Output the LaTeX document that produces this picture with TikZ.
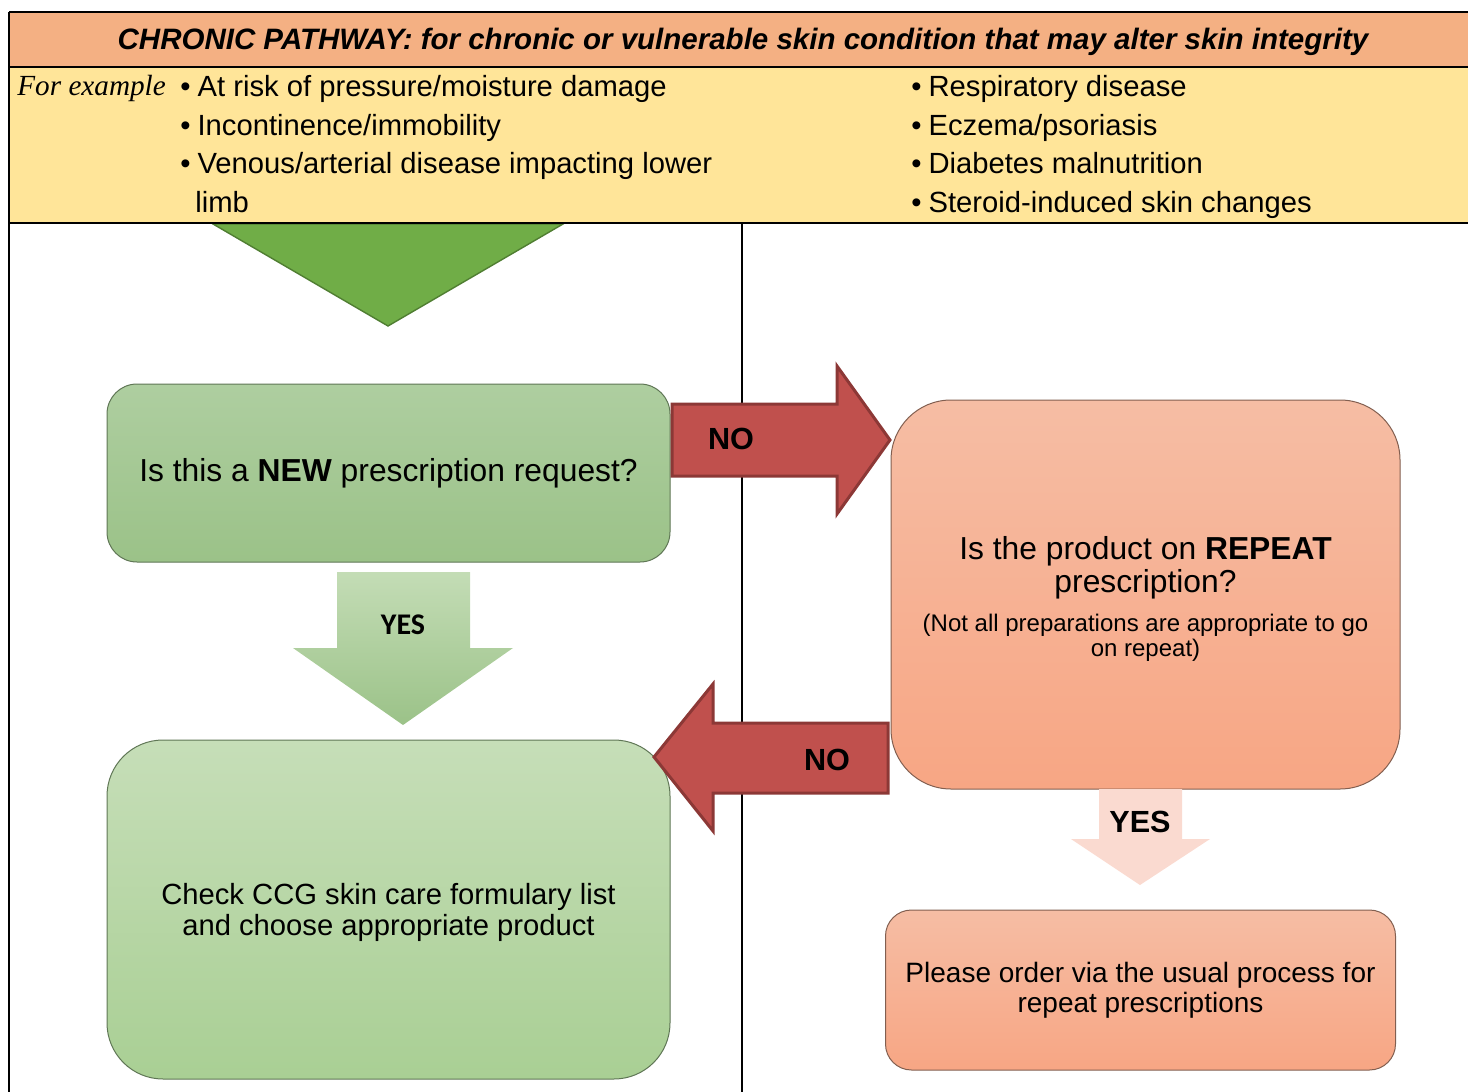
\documentclass[tikz,border=0pt]{standalone}
\usepackage{fontspec}
\setmainfont{Liberation Sans}
\newfontfamily\timesit{Liberation Serif}
\newfontfamily\calibri{Carlito}
\usetikzlibrary{positioning}

\definecolor{hdrorange}{RGB}{244,176,131}
\definecolor{hdryellow}{RGB}{255,229,153}
\definecolor{tripgreen}{RGB}{112,173,71}
\definecolor{tripline}{RGB}{80,126,50}
\definecolor{nored}{RGB}{192,80,77}
\definecolor{noredline}{RGB}{140,56,54}
\definecolor{greentop}{RGB}{174,206,160}
\definecolor{greenbot}{RGB}{155,194,136}
\definecolor{palegreentop}{RGB}{198,222,184}
\definecolor{palegreenbot}{RGB}{169,207,148}
\definecolor{salmontop}{RGB}{246,189,164}
\definecolor{salmonbot}{RGB}{247,166,132}
\definecolor{pinkarrow}{RGB}{250,218,208}
\definecolor{greenline}{RGB}{95,118,85}
\definecolor{salmonline}{RGB}{130,95,80}

\tikzset{
  listtxt/.style={anchor=base west,inner sep=0pt,font=\fontsize{14.6}{15}\selectfont},
  qbox/.style={draw,line width=0.5pt,inner sep=0pt,align=center},
  greenbox/.style={qbox,draw=greenline,top color=greentop,bottom color=greenbot},
  palebox/.style={qbox,draw=greenline,top color=palegreentop,bottom color=palegreenbot},
  salmonbox/.style={qbox,draw=salmonline,top color=salmontop,bottom color=salmonbot},
  redarrow/.style={fill=nored,draw=noredline,line width=1.5pt},
  answer/.style={font=\bfseries\fontsize{15.3}{16}\selectfont,inner sep=0pt},
}

\begin{document}
\begin{tikzpicture}[x=0.5pt,y=-0.5pt]
    \useasboundingbox (0,0) rectangle (1468,1092);

    % header bands
    \fill[hdrorange] (9,12) rectangle (1468,67);
    \fill[hdryellow] (9,67) rectangle (1468,223);
    \node (title) at (743,42) {\bfseries\itshape\fontsize{14.75}{15}\selectfont CHRONIC PATHWAY: for chronic or vulnerable skin condition that may alter skin integrity};

    \node[anchor=base west,inner sep=0pt] (forex) at (17,95) {\timesit\itshape\fontsize{14.6}{15}\selectfont For example};
    \node[listtxt] (l1) at (180,96) {\textbullet\hspace{3.5pt}At risk of pressure/moisture damage};
    \node[listtxt] (l2) at (180,135) {\textbullet\hspace{3.5pt}Incontinence/immobility};
    \node[listtxt] (l3) at (180,173) {\textbullet\hspace{3.5pt}Venous/arterial disease impacting lower};
    \node[listtxt] (l3b) at (195,212) {limb};
    \node[listtxt] (r1) at (911,96) {\textbullet\hspace{3.5pt}Respiratory disease};
    \node[listtxt] (r2) at (911,135) {\textbullet\hspace{3.5pt}Eczema/psoriasis};
    \node[listtxt] (r3) at (911,173) {\textbullet\hspace{3.5pt}Diabetes malnutrition};
    \node[listtxt] (r4) at (911,212) {\textbullet\hspace{3.5pt}Steroid-induced skin changes};

    % pointer into the pathway
    \draw[fill=tripgreen,draw=tripline,line width=0.7pt] (213,224) -- (563,224) -- (388,326) -- cycle;

    % frame
    \draw[line width=0.7pt] (9,12) -- (1468,12);
    \draw[line width=0.7pt] (9,67) -- (1468,67);
    \draw[line width=0.7pt] (9,223) -- (1468,223);
    \draw[line width=0.7pt] (9,12) -- (9,1092);
    \draw[line width=0.7pt] (742,223) -- (742,1092);

    % boxes
    \node[greenbox,rounded corners=15pt,minimum width=281.5pt,minimum height=89pt,font=\fontsize{15.9}{17}\selectfont] (newq) at (388.5,473)
        {Is this a \textbf{NEW} prescription request?};
    \node[salmonbox,rounded corners=30pt,minimum width=254.5pt,minimum height=194.5pt] (repq) at (1145.5,594.5)
        {\begin{minipage}{250pt}\centering\vspace*{4pt}
         \fontsize{15.9}{16.5}\selectfont Is the product on \textbf{REPEAT}\\ prescription?\par
         \vspace{7pt}\fontsize{12}{12.5}\selectfont (Not all preparations are appropriate to go\\ on repeat)\par
         \end{minipage}};
    \node[palebox,rounded corners=28pt,minimum width=281.5pt,minimum height=169.5pt,font=\fontsize{14.6}{15.5}\selectfont] (check) at (388.5,909.5)
        {\\[-2pt]Check CCG skin care formulary list\\ and choose appropriate product};
    \node[salmonbox,rounded corners=13pt,minimum width=255pt,minimum height=80pt,font=\fontsize{14}{15}\selectfont] (order) at (1140.5,990)
        {Please order via the usual process for\\ repeat prescriptions};

    % block arrows
    \draw[redarrow] (672,404) -- (837,404) -- (837,366) -- (890,440) -- (837,514) -- (837,476) -- (672,476) -- cycle;
    \node[answer] (no1) at (731,439) {NO};
    \draw[redarrow] (888,723) -- (713,723) -- (713,684) -- (654,757) -- (713,831) -- (713,793) -- (888,793) -- cycle;
    \node[answer] (no2) at (827,760) {NO};
    \shade[top color=palegreentop!90!greentop,bottom color=greenbot] (337,572) -- (470,572) -- (470,648) -- (513,648) -- (403,725) -- (293,648) -- (337,648) -- cycle;
    \node[inner sep=0pt] (yes1) at (403,625) {\calibri\bfseries\fontsize{15}{16}\selectfont YES};
    \fill[pinkarrow] (1099,789) -- (1182,789) -- (1182,839) -- (1210,839) -- (1140,885) -- (1071,839) -- (1099,839) -- cycle;
    \node[answer] (yes2) at (1140,822) {YES};
\end{tikzpicture}
\end{document}
